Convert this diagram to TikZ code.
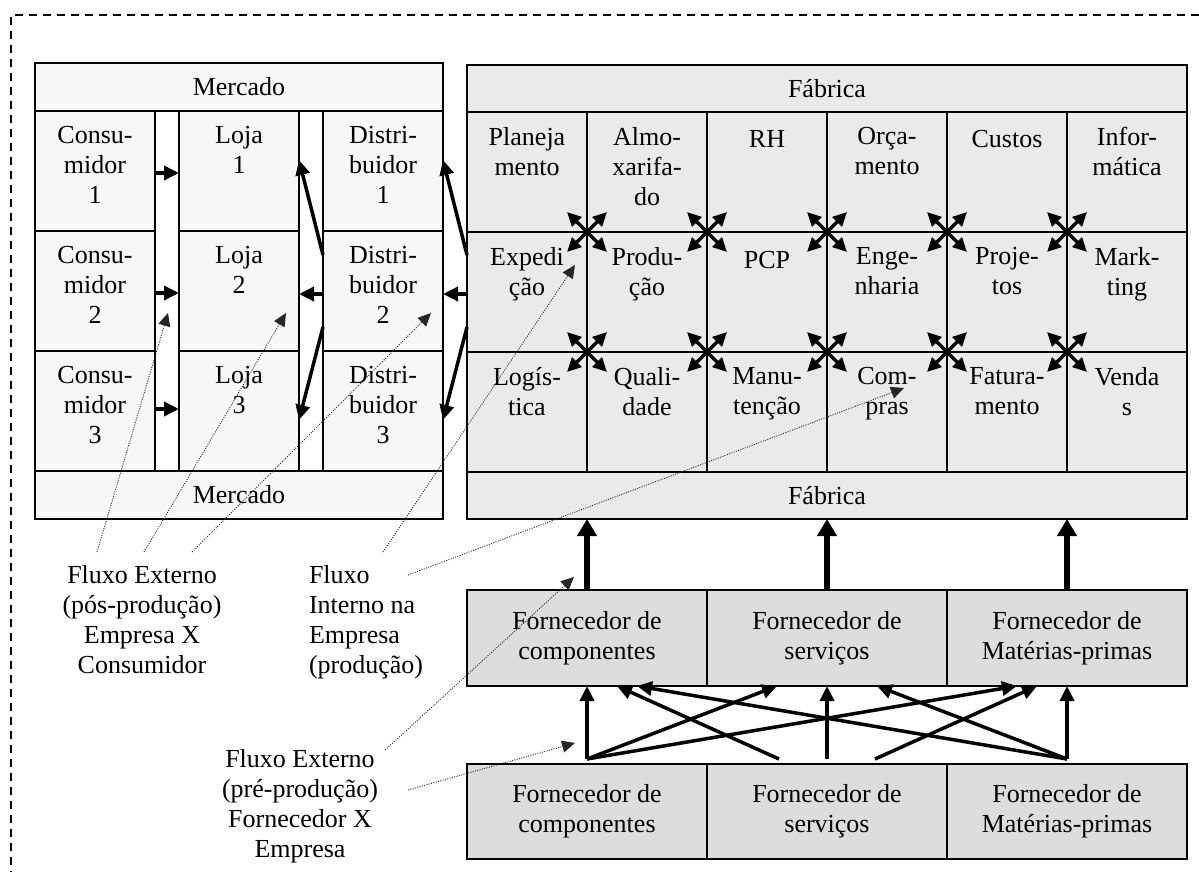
\documentclass[tikz,border=0pt]{standalone}
\usepackage{fontspec}
\setmainfont{Liberation Serif}
\usetikzlibrary{arrows.meta,calc}
\definecolor{mfill}{HTML}{F7F7F7}
\definecolor{ffill}{HTML}{EAEAEA}
\definecolor{sfill}{HTML}{DDDDDD}
\newcommand{\firststrut}{\rule{0pt}{21pt}}
\begin{document}
\begin{tikzpicture}[x=1pt,y=-1pt,
  every node/.style={font=\fontsize{26}{30}\selectfont, inner sep=0pt, outer sep=0pt},
  box/.style={draw, line width=1.6pt, rectangle},
  mcell/.style={box, fill=mfill, minimum width=120pt, minimum height=120pt},
  fcell/.style={box, fill=ffill, minimum width=120pt, minimum height=120pt},
  scell/.style={box, fill=sfill, minimum width=240pt, align=center},
  ctext/.style={align=center, anchor=north, execute at begin node=\firststrut},
  ltext/.style={align=left, anchor=north west, execute at begin node=\firststrut},
  thk/.style={line width=3.5pt, -{Triangle[length=15pt,width=14pt]}},
  thkk/.style={line width=6pt, -{Triangle[length=17pt,width=19pt]}},
  cross/.style={line width=3.5pt, {Triangle[length=14pt,width=13pt]}-{Triangle[length=14pt,width=13pt]}},
  note/.style={line width=0.9pt, black!85, dash pattern=on 1pt off 1.4pt, -{Triangle[length=13pt,width=12pt]}},
  frame/.style={line width=1.8pt, dash pattern=on 8pt off 6pt}
]
\useasboundingbox (0,0) rectangle (1199,872);
\draw[frame] (1199,15) -- (11,15) -- (11,872);

% ---------------- Mercado ----------------
\node[box, fill=white, minimum width=408pt, minimum height=456pt] (mk) at (239,291) {};
\node[box, fill=mfill, minimum width=408pt, minimum height=48pt] (mh) at (239,87) {Mercado};
\node[box, fill=mfill, minimum width=408pt, minimum height=48pt] (mf) at (239,495) {Mercado};
\foreach \n/\x/\y/\t in {c1/95/171/{Consu-\\midor\\1}, c2/95/291/{Consu-\\midor\\2}, c3/95/411/{Consu-\\midor\\3},
  l1/239/171/{Loja\\1}, l2/239/291/{Loja\\2}, l3/239/411/{Loja\\3},
  d1/383/171/{Distri-\\buidor\\1}, d2/383/291/{Distri-\\buidor\\2}, d3/383/411/{Distri-\\buidor\\3}}{
  \node[mcell] (\n) at (\x,\y) {};
  \node[ctext] (\n t) at ([yshift=-15pt]\n.north) {\t};
}

% ---------------- Fábrica ----------------
\node[box, fill=ffill, minimum width=720pt, minimum height=454pt] (fb) at (827,292) {};
\node[box, fill=ffill, minimum width=720pt, minimum height=47pt] (fh) at (827,88.5) {Fábrica};
\node[box, fill=ffill, minimum width=720pt, minimum height=47pt] (ff) at (827,495.5) {Fábrica};
\foreach \n/\x/\y/\t in {
  f11/527/172/{Planeja\\mento}, f12/647/172/{Almo-\\xarifa-\\do}, f13/767/172/{RH},
  f14/887/172/{Orça-\\mento}, f15/1007/172/{Custos}, f16/1127/172/{Infor-\\mática},
  f21/527/292/{Expedi\\ção}, f22/647/292/{Produ-\\ção}, f23/767/292/{PCP},
  f24/887/292/{Enge-\\nharia}, f25/1007/292/{Proje-\\tos}, f26/1127/292/{Mark-\\ting},
  f31/527/412/{Logís-\\tica}, f32/647/412/{Quali-\\dade}, f33/767/412/{Manu-\\tenção},
  f34/887/412/{Com-\\pras}, f35/1007/412/{Fatura-\\mento}, f36/1127/412/{Venda\\s}}{
  \node[fcell] (\n) at (\x,\y) {};
  \node[ctext] (\n t) at ([yshift=-15pt]\n.north) {\t};
}

% cross arrows
\foreach \n in {f11,f12,f13,f14,f15,f21,f22,f23,f24,f25}{
  \draw[cross] ([shift={(-20,-20)}]\n.south east) -- ([shift={(20,20)}]\n.south east);
  \draw[cross] ([shift={(-20,20)}]\n.south east) -- ([shift={(20,-20)}]\n.south east);
}

% ---------------- Fornecedores ----------------
\node[scell, minimum height=96pt] (us1) at (587,638) {Fornecedor de\\componentes};
\node[scell, minimum height=96pt] (us2) at (827,638) {Fornecedor de\\serviços};
\node[scell, minimum height=96pt] (us3) at (1067,638) {Fornecedor de\\Matérias-primas};
\node[scell, minimum height=95pt] (ls1) at (587,811.5) {Fornecedor de\\componentes};
\node[scell, minimum height=95pt] (ls2) at (827,811.5) {Fornecedor de\\serviços};
\node[scell, minimum height=95pt] (ls3) at (1067,811.5) {Fornecedor de\\Matérias-primas};

% supplier -> factory
\foreach \n in {us1,us2,us3}{
  \draw[thkk] (\n.north) -- (\n.north |- ff.south);
}
% lower -> upper suppliers
\coordinate (s1) at ($(ls1.north)+(0,-5)$);
\coordinate (s2) at ($(ls2.north)+(0,-5)$);
\coordinate (s3) at ($(ls3.north)+(0,-5)$);
\coordinate (s2a) at ($(ls2.north)+(-48,-5)$);
\coordinate (s2b) at ($(ls2.north)+(48,-5)$);
\draw[thk] (s1) -- (us1.south);
\draw[thk] (s2) -- (us2.south);
\draw[thk] (s3) -- (us3.south);
\draw[thk] (s1) -- ($(us2.south)+(-50,0)$);
\draw[thk] (s1) -- ($(us3.south)+(-50,0)$);
\draw[thk] (s3) -- ($(us2.south)+(50,0)$);
\draw[thk] (s3) -- ($(us1.south)+(50,0)$);
\draw[thk] (s2a) -- ($(us1.south)+(30,0)$);
\draw[thk] (s2b) -- ($(us3.south)+(-30,0)$);

% ---------------- Mercado arrows ----------------
\draw[thk] ($(c1.east)+(0,2)$) -- ($(l1.west)+(0,2)$);
\draw[thk] ($(c2.east)+(0,2)$) -- ($(l2.west)+(0,2)$);
\draw[thk] ($(c3.east)+(0,-2)$) -- ($(l3.west)+(0,-2)$);
\draw[thk] ($(d2.west)+(0,-36)$) -- ($(l1.east)+(0,-11)$);
\draw[thk] ($(d2.west)+(0,3)$) -- ($(l2.east)+(0,3)$);
\draw[thk] ($(d2.west)+(0,36)$) -- ($(l3.east)+(0,9)$);
\draw[thk] ($(f21.west)+(0,-37)$) -- ($(d1.east)+(0,-11)$);
\draw[thk] ($(f21.west)+(0,2)$) -- ($(d2.east)+(0,3)$);
\draw[thk] ($(f21.west)+(0,35)$) -- ($(d3.east)+(0,9)$);

% ---------------- Annotations ----------------
\node[ctext] (npos) at (142,565) {Fluxo Externo\\(pós-produção)\\Empresa X\\Consumidor};
\node[ltext] (nint) at (309,565) {Fluxo\\Interno na\\Empresa\\(produção)};
\node[ctext] (npre) at (300,749) {Fluxo Externo\\(pré-produção)\\Fornecedor X\\Empresa};

\coordinate (a1) at (97,552);   \coordinate (t1) at (168,313);
\coordinate (a2) at (144,552);  \coordinate (t2) at (286,313);
\coordinate (a3) at (192,552);  \coordinate (t3) at (431,313);
\coordinate (b1) at (383,552);  \coordinate (u1) at (575,265);
\coordinate (b2) at (408,575);  \coordinate (u2) at (904,388);
\coordinate (e1) at (385,750);  \coordinate (v1) at (574,577);
\coordinate (e2) at (408,790);  \coordinate (v2) at (575,743);
\draw[note] (a1) -- (t1);
\draw[note] (a2) -- (t2);
\draw[note] (a3) -- (t3);
\draw[note] (b1) -- (u1);
\draw[note] (b2) -- (u2);
\draw[note] (e1) -- (v1);
\draw[note] (e2) -- (v2);
\end{tikzpicture}
\end{document}
